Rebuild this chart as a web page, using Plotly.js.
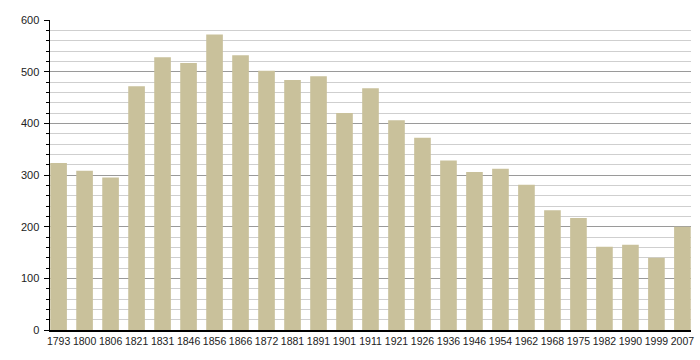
<!DOCTYPE html>
<html>
<head>
<meta charset="utf-8">
<script src="https://cdn.plot.ly/plotly-3.0.1.min.js"></script>
<style>html,body{margin:0;padding:0;background:#fff;}#chart{width:700px;height:360px;}</style>
</head>
<body>
<div id="chart"></div>
<script>
var years = ["1793","1800","1806","1821","1831","1846","1856","1866","1872","1881","1891","1901","1911","1921","1926","1936","1946","1954","1962","1968","1975","1982","1990","1999","2007"];
var population = [323,308,295,472,528,517,572,532,502,484,491,420,468,406,372,328,306,312,281,232,217,161,165,140,200];

var trace = {
  type: 'bar',
  x: years,
  y: population,
  width: 0.64,
  marker: {color: '#c9c19b', line: {width: 0}},
  hoverinfo: 'x+y'
};

var layout = {
  width: 700, height: 360,
  margin: {l: 50, r: 9, t: 20, b: 30},
  paper_bgcolor: '#ffffff',
  plot_bgcolor: '#ffffff',
  font: {family: '"Liberation Sans", Arial, sans-serif', size: 11, color: '#222'},
  showlegend: false,
  xaxis: {
    type: 'category',
    range: [-0.33, 24.33],
    showgrid: false,
    showline: true, linecolor: '#000', linewidth: 1.5,
    ticks: '', tickangle: 0, automargin: false,
    ticklabelstandoff: 1,
    tickfont: {size: 10.5, color: '#222'},
    fixedrange: true
  },
  yaxis: {
    range: [0, 600],
    dtick: 100,
    showgrid: true, gridcolor: '#9a9a9a', gridwidth: 1,
    zeroline: false,
    showline: true, linecolor: '#000', linewidth: 1.5,
    ticks: 'outside', ticklen: 5, tickcolor: '#000', tickwidth: 1,
    ticklabelstandoff: 2, automargin: false,
    tickfont: {size: 11, color: '#222'},
    minor: {dtick: 20, showgrid: true, gridcolor: '#cfcfcf', gridwidth: 1, ticks: 'outside', ticklen: 3, tickcolor: '#000'},
    fixedrange: true
  }
};

Plotly.newPlot('chart', [trace], layout, {displayModeBar: false, staticPlot: true});
</script>
</body>
</html>
